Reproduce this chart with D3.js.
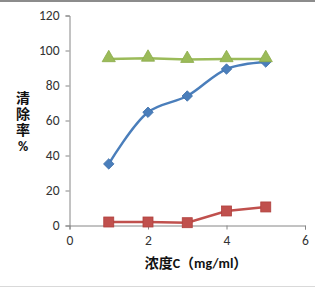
<!DOCTYPE html>
<html>
<head>
<meta charset="utf-8">
<script src="https://cdn.jsdelivr.net/npm/d3@7"></script>
<style>
  body { margin: 0; background: #fff; }
  text { font-family: Calibri, Carlito, "Liberation Sans", "Noto Sans CJK SC", sans-serif; }
</style>
</head>
<body>
<svg id="chart" width="315" height="288"></svg>
<script>
// concentration values (mg/ml)
const conc = [1, 2, 3, 4, 5];
const blueSeries = [35.2, 64.7, 74, 89.4, 93.4];
const redSeries = [2, 2, 1.6, 8.3, 10.6];
const greenSeries = [95.2, 95.5, 94.8, 95.2, 95.2];
const yTicks = [0, 20, 40, 60, 80, 100, 120];
const xTicks = [0, 2, 4, 6];

const svg = d3.select("#chart");

// frame lines of the original picture
svg.append("rect").attr("x", 0).attr("y", 0).attr("width", 315).attr("height", 2).attr("fill", "#8c8c8c");
svg.append("rect").attr("x", 0).attr("y", 286).attr("width", 315).attr("height", 1).attr("fill", "#d9d9d9");

const x = d3.scaleLinear().domain([0, 6]).range([69.5, 305]);
const y = d3.scaleLinear().domain([0, 120]).range([225.5, 15.5]);

const yAxis = svg.append("g")
    .attr("transform", `translate(${x(0)},0)`)
    .call(d3.axisLeft(y).tickValues(yTicks).tickSize(4).tickPadding(6).tickFormat(d3.format("d")));
const xAxis = svg.append("g")
    .attr("transform", `translate(0,${y(0)})`)
    .call(d3.axisBottom(x).tickValues(xTicks).tickSize(4).tickPadding(6).tickFormat(d3.format("d")));

[xAxis, yAxis].forEach(a => {
    a.select(".domain").attr("stroke", "#868686");
    a.selectAll(".tick line").attr("stroke", "#868686");
    a.selectAll(".tick text").attr("fill", "#333").style("font-size", "13.5px")
        .style("font-family", "Carlito, Calibri, 'Liberation Sans', sans-serif");
});

const lineStraight = d3.line().x((d, i) => x(conc[i])).y(d => y(d));
const lineSmooth = d3.line().x((d, i) => x(conc[i])).y(d => y(d)).curve(d3.curveCatmullRom.alpha(0.5));

// blue - smoothed, diamonds
svg.append("path").datum(blueSeries).attr("d", lineSmooth)
    .attr("fill", "none").attr("stroke", "#4a7ebb").attr("stroke-width", 2.5);
svg.selectAll(".dia").data(blueSeries).enter().append("path")
    .attr("d", d3.symbol().type(d3.symbolDiamond2).size(70))
    .attr("transform", (d, i) => `translate(${x(conc[i])},${y(d)})`)
    .attr("fill", "#4a7ebb").attr("stroke", "#3d6fa8").attr("stroke-width", 0.8);

// red - squares
svg.append("path").datum(redSeries).attr("d", lineStraight)
    .attr("fill", "none").attr("stroke", "#c0504d").attr("stroke-width", 2.5);
svg.selectAll(".sq").data(redSeries).enter().append("rect")
    .attr("x", (d, i) => x(conc[i]) - 5).attr("y", d => y(d) - 5)
    .attr("width", 10).attr("height", 10)
    .attr("fill", "#c0504d").attr("stroke", "#b0403d").attr("stroke-width", 0.8);

// green - triangles
svg.append("path").datum(greenSeries).attr("d", lineStraight)
    .attr("fill", "none").attr("stroke", "#9bbb59").attr("stroke-width", 2.5);
svg.selectAll(".tri").data(greenSeries).enter().append("path")
    .attr("d", d3.symbol().type(d3.symbolTriangle).size(75))
    .attr("transform", (d, i) => `translate(${x(conc[i])},${y(d) - 1})`)
    .attr("fill", "#9bbb59").attr("stroke", "#8aab49").attr("stroke-width", 0.8);

// axis titles
const yTitle = ["清", "除", "率", "%"];
svg.selectAll(".yt").data(yTitle).enter().append("text")
    .attr("x", 23).attr("y", (d, i) => 103 + i * 16)
    .attr("text-anchor", "middle")
    .style("font-size", "14px").style("font-weight", "bold").attr("fill", "#111")
    .text(d => d);

svg.append("text")
    .attr("x", 196).attr("y", 268)
    .attr("text-anchor", "middle")
    .style("font-size", "14px").style("font-weight", "bold").attr("fill", "#111")
    .text("浓度C（mg/ml）");
</script>
</body>
</html>
